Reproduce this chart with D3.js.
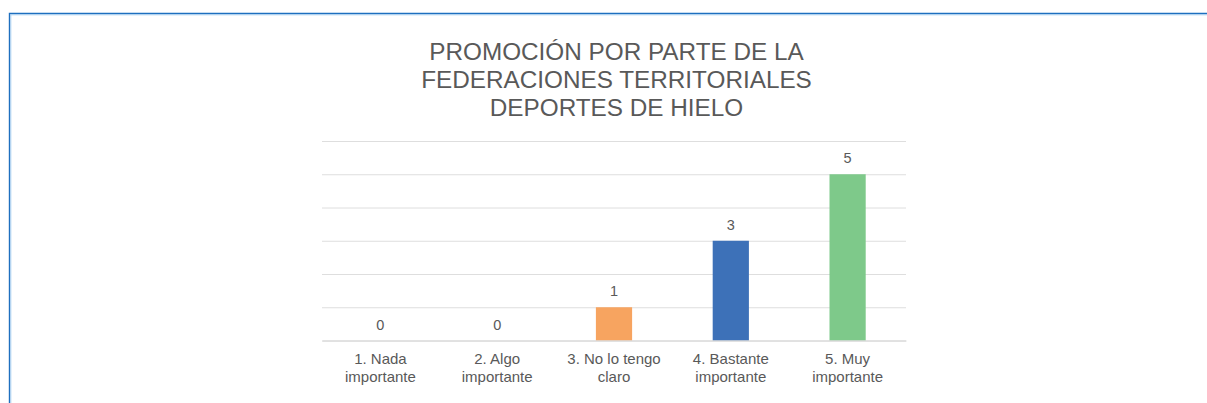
<!DOCTYPE html>
<html>
<head>
<meta charset="utf-8">
<script src="https://cdn.jsdelivr.net/npm/d3@7"></script>
<style>
  body { margin: 0; background: #fff; }
  svg { display: block; font-family: "Liberation Sans", Arial, sans-serif; }
</style>
</head>
<body>
<script>
const width = 1207;
const height = 403;

// data
const categories = ["1. Nada importante", "2. Algo importante", "3. No lo tengo claro", "4. Bastante importante", "5. Muy importante"];
const categoryLines = [["1. Nada", "importante"], ["2. Algo", "importante"], ["3. No lo tengo", "claro"], ["4. Bastante", "importante"], ["5. Muy", "importante"]];
const values = [0, 0, 1, 3, 5];
const barColors = ["#F7A460", "#F7A460", "#F7A460", "#3D71B8", "#7EC98A"];
const titleLines = ["PROMOCIÓN POR PARTE DE LA", "FEDERACIONES TERRITORIALES", "DEPORTES DE HIELO"];
const yTicks = [0, 1, 2, 3, 4, 5, 6];

const textColor = "#595959";
const gridColor = "#dedede";

const plot = {left: 322, right: 906, top: 141, bottom: 340.5};

const svg = d3.select("body")
  .append("svg")
  .attr("width", width)
  .attr("height", height);

// blue frame
svg.append("path")
  .attr("d", "M9.5,403V13.5H1207")
  .attr("fill", "none")
  .attr("stroke", "#1e6fbf")
  .attr("stroke-width", 1.4);
svg.append("path")
  .attr("d", "M10.8,403V14.8H1207")
  .attr("fill", "none")
  .attr("stroke", "#a8cff0")
  .attr("stroke-width", 1);

const x = d3.scaleBand()
  .domain(categories)
  .range([plot.left, plot.right])
  .paddingInner(0.69)
  .paddingOuter(0.345);

const y = d3.scaleLinear()
  .domain([0, 6])
  .range([plot.bottom, plot.top]);

// gridlines
svg.append("g")
  .attr("transform", `translate(${plot.left},0)`)
  .call(d3.axisLeft(y).tickValues(yTicks).tickSize(-(plot.right - plot.left)).tickFormat(""))
  .call(g => g.select(".domain").remove())
  .call(g => g.selectAll("line").attr("stroke", gridColor).attr("stroke-width", 1));

// bars
svg.selectAll("rect.bar")
  .data(values)
  .enter()
  .append("rect")
  .attr("class", "bar")
  .attr("x", (d, i) => x(categories[i]))
  .attr("y", d => y(d))
  .attr("width", x.bandwidth())
  .attr("height", d => y(0) - y(d))
  .attr("fill", (d, i) => barColors[i]);

// value labels
svg.selectAll("text.val")
  .data(values)
  .enter()
  .append("text")
  .attr("class", "val")
  .attr("x", (d, i) => x(categories[i]) + x.bandwidth() / 2)
  .attr("y", d => y(d) - 11)
  .attr("text-anchor", "middle")
  .attr("fill", textColor)
  .style("font-size", "14.5px")
  .text(d => d);

// category axis
const xAxis = svg.append("g")
  .attr("transform", `translate(0,${plot.bottom})`)
  .call(d3.axisBottom(x).tickSize(0).tickFormat(""));
xAxis.select(".domain").attr("stroke", "#d4d4d4");
xAxis.selectAll(".tick").each(function (d, i) {
  const t = d3.select(this).append("text")
    .attr("text-anchor", "middle")
    .attr("fill", textColor)
    .style("font-size", "15px");
  categoryLines[i].forEach((line, k) => {
    t.append("tspan")
      .attr("x", 0)
      .attr("y", 23.5 + k * 17.5)
      .text(line);
  });
});

// title
const title = svg.append("text")
  .attr("text-anchor", "middle")
  .attr("fill", textColor)
  .style("font-size", "24.3px");
titleLines.forEach((line, k) => {
  title.append("tspan")
    .attr("x", (plot.left + plot.right) / 2 + 2.5)
    .attr("y", 59.5 + k * 28.3)
    .text(line);
});
</script>
</body>
</html>
